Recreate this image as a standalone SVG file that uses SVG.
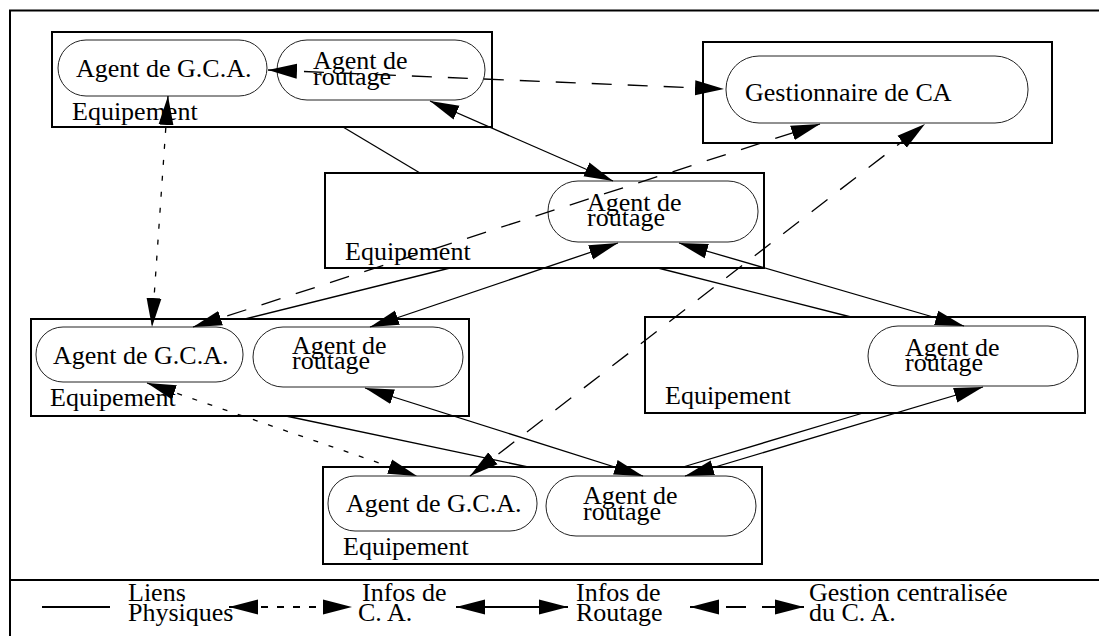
<svg xmlns="http://www.w3.org/2000/svg" width="1099" height="636" viewBox="0 0 1099 636">
<style>
.frame{fill:none;stroke:#000;stroke-width:2}
.box{fill:none;stroke:#000;stroke-width:2}
.pill{fill:none;stroke:#222;stroke-width:1}
text{font-family:"Liberation Serif","Times New Roman",serif;font-size:26px;fill:#000}
.lnk{fill:none;stroke:#000;stroke-width:1.3}
.ca{stroke-dasharray:5 11}
.gest{stroke-dasharray:20 16}
.legca{stroke-dasharray:7 9}
.arr{marker-start:url(#ah);marker-end:url(#ah)}
.leg{stroke-width:2}
</style>
<defs>
<marker id="ah" markerUnits="userSpaceOnUse" markerWidth="29" markerHeight="16" refX="29" refY="8" orient="auto-start-reverse" viewBox="0 0 29 16">
<path d="M0,0.5 L29,8 L0,15.5 z" fill="#000"/>
</marker>
</defs>
<rect x="0" y="0" width="1099" height="636" fill="#fff"/>
<g id="frame">
<line class="frame" x1="9" y1="10.5" x2="1099" y2="10.5"/>
<line class="frame" x1="10" y1="10" x2="10" y2="636"/>
<line class="frame" x1="10" y1="580" x2="1099" y2="580"/>
</g>
<g id="equip-A">
<rect class="box" x="52" y="32" width="440" height="95"/>
<rect class="pill" x="58" y="40" width="209" height="56" rx="28" ry="28"/>
<text x="76" y="77">Agent de G.C.A.</text>
<rect class="pill" x="277" y="40" width="208" height="60" rx="30" ry="30"/>
<text x="313" y="69">Agent de</text>
<text x="313" y="85">routage</text>
<text x="72" y="120">Equipement</text>
</g>
<g id="gestionnaire">
<rect class="box" x="703" y="42" width="349" height="101"/>
<rect class="pill" x="726" y="56" width="302" height="67" rx="33" ry="33"/>
<text x="745" y="101">Gestionnaire de CA</text>
</g>
<g id="equip-B">
<rect class="box" x="325" y="173" width="439" height="95"/>
<rect class="pill" x="548" y="181" width="210" height="61" rx="30" ry="30"/>
<text x="587" y="211">Agent de</text>
<text x="587" y="226">routage</text>
<text x="345" y="260">Equipement</text>
</g>
<g id="equip-C">
<rect class="box" x="31" y="319" width="438" height="97"/>
<rect class="pill" x="36" y="327" width="207" height="55" rx="27" ry="27"/>
<text x="53" y="364">Agent de G.C.A.</text>
<rect class="pill" x="253" y="327" width="210" height="60" rx="30" ry="30"/>
<text x="292" y="354">Agent de</text>
<text x="292" y="369">routage</text>
<text x="50" y="406">Equipement</text>
</g>
<g id="equip-D">
<rect class="box" x="645" y="317" width="440" height="96"/>
<rect class="pill" x="868" y="326" width="210" height="60" rx="30" ry="30"/>
<text x="905" y="356">Agent de</text>
<text x="905" y="371">routage</text>
<text x="665" y="404">Equipement</text>
</g>
<g id="equip-E">
<rect class="box" x="323" y="467" width="439" height="97"/>
<rect class="pill" x="328" y="476" width="209" height="55" rx="27" ry="27"/>
<text x="346" y="512">Agent de G.C.A.</text>
<rect class="pill" x="546" y="476" width="210" height="60" rx="30" ry="30"/>
<text x="583" y="504">Agent de</text>
<text x="583" y="520">routage</text>
<text x="343" y="555">Equipement</text>
</g>
<g id="connectors">
<line class="lnk gest arr" x1="268" y1="70" x2="724" y2="89"/>
<line class="lnk arr" x1="430" y1="101" x2="613" y2="181"/>
<line class="lnk" x1="343" y1="127" x2="420" y2="173"/>
<line class="lnk gest arr" x1="193" y1="327" x2="820" y2="124"/>
<line class="lnk gest arr" x1="470" y1="476" x2="925" y2="124"/>
<line class="lnk ca arr" x1="168" y1="96" x2="152" y2="327"/>
<line class="lnk arr" x1="618" y1="243" x2="370" y2="327"/>
<line class="lnk" x1="245" y1="319" x2="450" y2="268"/>
<line class="lnk arr" x1="679" y1="243" x2="964" y2="326"/>
<line class="lnk" x1="658" y1="268" x2="851" y2="317"/>
<line class="lnk" x1="286" y1="416" x2="528" y2="467"/>
<line class="lnk arr" x1="365" y1="388" x2="643" y2="476"/>
<line class="lnk ca arr" x1="147" y1="383" x2="417" y2="476"/>
<line class="lnk" x1="863" y1="413" x2="683" y2="467"/>
<line class="lnk arr" x1="983" y1="387" x2="685" y2="476"/>
</g>
<g id="legend">
<line class="lnk leg" x1="42" y1="607" x2="110" y2="607"/>
<text x="128" y="601">Liens</text>
<text x="128" y="621">Physiques</text>
<line class="lnk leg legca arr" x1="229" y1="607" x2="352" y2="607"/>
<text x="362" y="601">Infos de</text>
<text x="358" y="621">C. A.</text>
<line class="lnk leg arr" x1="456" y1="607" x2="568" y2="607"/>
<text x="576" y="601">Infos de</text>
<text x="576" y="621">Routage</text>
<line class="lnk leg gest arr" x1="690" y1="607" x2="804" y2="607"/>
<text x="809" y="601">Gestion centralisée</text>
<text x="809" y="621">du C. A.</text>
</g>
</svg>
